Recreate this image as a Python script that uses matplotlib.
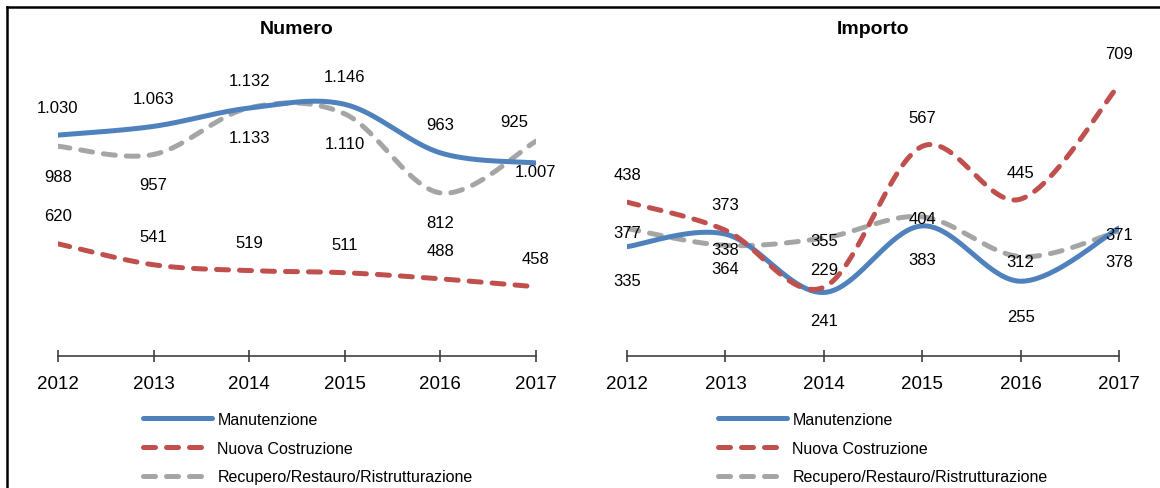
import numpy as np
import matplotlib
matplotlib.use('Agg')
import matplotlib.pyplot as plt
from matplotlib.lines import Line2D
from matplotlib import font_manager as fm

# ---------------- data ----------------
years = [2012, 2013, 2014, 2015, 2016, 2017]
series_names = ['Manutenzione', 'Nuova Costruzione', 'Recupero/Restauro/Ristrutturazione']

numero_manutenzione = [1030, 1063, 1132, 1146, 963, 925]
numero_nuova = [620, 541, 519, 511, 488, 458]
numero_recupero = [988, 957, 1133, 1110, 812, 1007]

importo_manutenzione = [335, 364, 229, 383, 255, 378]
importo_nuova = [438, 373, 241, 567, 445, 709]
importo_recupero = [377, 338, 355, 404, 312, 371]

# ---------------- style ----------------
avail = {f.name for f in fm.fontManager.ttflist}
narrow = 'Liberation Sans Narrow' in avail
base = 'Liberation Sans Narrow' if narrow else 'Liberation Sans'
plt.rcParams['font.family'] = [base, 'DejaVu Sans']

FS_LABEL = 13 if narrow else 12
FS_TICK = 15 if narrow else 13.5
FS_LEG = 13 if narrow else 11.5
FS_TITLE = 14.5 if narrow else 14

W, H = 1160, 489
DPI = 100
colors = ['#4F81BD', '#C0504D', '#A5A5A5']
LW = 3.6
DASH = (2.4, 2.2)

# label offsets in pixels (dx, dy; dy positive = up)
num_offsets = [
    [(0, 28)] * 5 + [(-22, 41)],       # Manutenzione
    [(0, 28)] * 6,                     # Nuova
    [(0, -30)] * 6,                    # Recupero
]
imp_offsets = [
    [(0, -34), (0, -34), (0, 23), (0, -34), (0, -35), (0, -33)],
    [(0, 28), (0, 26), (0, -33), (0, 29), (0, 27), (0, 31)],
    [(0, -4), (0, -4), (0, -3), (0, -2), (0, -5), (0, -3)],
]


def smooth(x, y, n=40):
    P = np.column_stack([np.asarray(x, float), np.asarray(y, float)])
    Pext = np.vstack([P[0], P, P[-1]])
    t = np.linspace(0, 1, n)[:, None]
    out = []
    for i in range(len(P) - 1):
        p0, p1, p2, p3 = Pext[i], Pext[i + 1], Pext[i + 2], Pext[i + 3]
        c1 = p1 + (p2 - p0) / 6
        c2 = p2 - (p3 - p1) / 6
        seg = (1 - t) ** 3 * p1 + 3 * (1 - t) ** 2 * t * c1 + 3 * (1 - t) * t ** 2 * c2 + t ** 3 * p2
        out.append(seg if i == 0 else seg[1:])
    out = np.vstack(out)
    return out[:, 0], out[:, 1]


def fmt(v):
    return f"{v:,}".replace(',', '.')


fig = plt.figure(figsize=(W / DPI, H / DPI), dpi=DPI)

ax1 = fig.add_axes([58 / W, 1 - 357 / H, 478 / W, 319 / H])
ax2 = fig.add_axes([627 / W, 1 - 357 / H, 492 / W, 319 / H])


def draw_panel(ax, title, data, offsets, ylim):
    handles = []
    for k, (vals, col) in enumerate(zip(data, colors)):
        xs, ys = smooth(years, vals)
        if k == 0:
            ln, = ax.plot(xs, ys, color=col, lw=LW, solid_capstyle='round', zorder=3)
        else:
            ln, = ax.plot(xs, ys, color=col, lw=LW, dashes=DASH,
                          dash_capstyle='round', zorder=3 if k == 1 else 2)
        handles.append(ln)
        for x, v, (dx, dy) in zip(years, vals, offsets[k]):
            ax.annotate(fmt(v), (x, v), xytext=(dx, dy), textcoords='offset pixels',
                        ha='center', va='center', fontsize=FS_LABEL, color='black', zorder=5)
    ax.set_xlim(2012, 2017)
    ax.set_ylim(*ylim)
    ax.set_xticks(years)
    ax.set_xticklabels([str(y) for y in years])
    ax.set_yticks([])
    for s in ['left', 'right', 'top']:
        ax.spines[s].set_visible(False)
    ax.spines['bottom'].set_color('#404040')
    ax.spines['bottom'].set_linewidth(1.2)
    ax.tick_params(axis='x', direction='inout', length=8.6, width=1.2, color='#404040',
                   labelsize=FS_TICK, pad=9.5, labelcolor='black')
    ax.patch.set_visible(False)
    ax.set_title(title, fontsize=FS_TITLE, fontweight='bold', pad=1.5)
    return handles


h1 = draw_panel(ax1, 'Numero', [numero_manutenzione, numero_nuova, numero_recupero],
                num_offsets, (197, 1400))
h2 = draw_panel(ax2, 'Importo', [importo_manutenzione, importo_nuova, importo_recupero],
                imp_offsets, (82, 820))

for hs, x0 in ((h1, 143), (h2, 718)):
    fig.legend(handles=hs, labels=series_names, loc='upper left',
               bbox_to_anchor=(x0 / W, 1 - 413 / H), frameon=False, fontsize=FS_LEG,
               handlelength=4.35, handletextpad=0.3, labelspacing=0.86,
               borderpad=0, borderaxespad=0)

# outer frame (left and top edges)
fig.add_artist(Line2D([6.5 / W, 6.5 / W], [0, 1 - 7.5 / H], transform=fig.transFigure,
                      color='black', lw=1.8))
fig.add_artist(Line2D([6.5 / W, 1], [1 - 7.5 / H, 1 - 7.5 / H], transform=fig.transFigure,
                      color='black', lw=1.8))

fig.savefig('out.png', dpi=DPI)
